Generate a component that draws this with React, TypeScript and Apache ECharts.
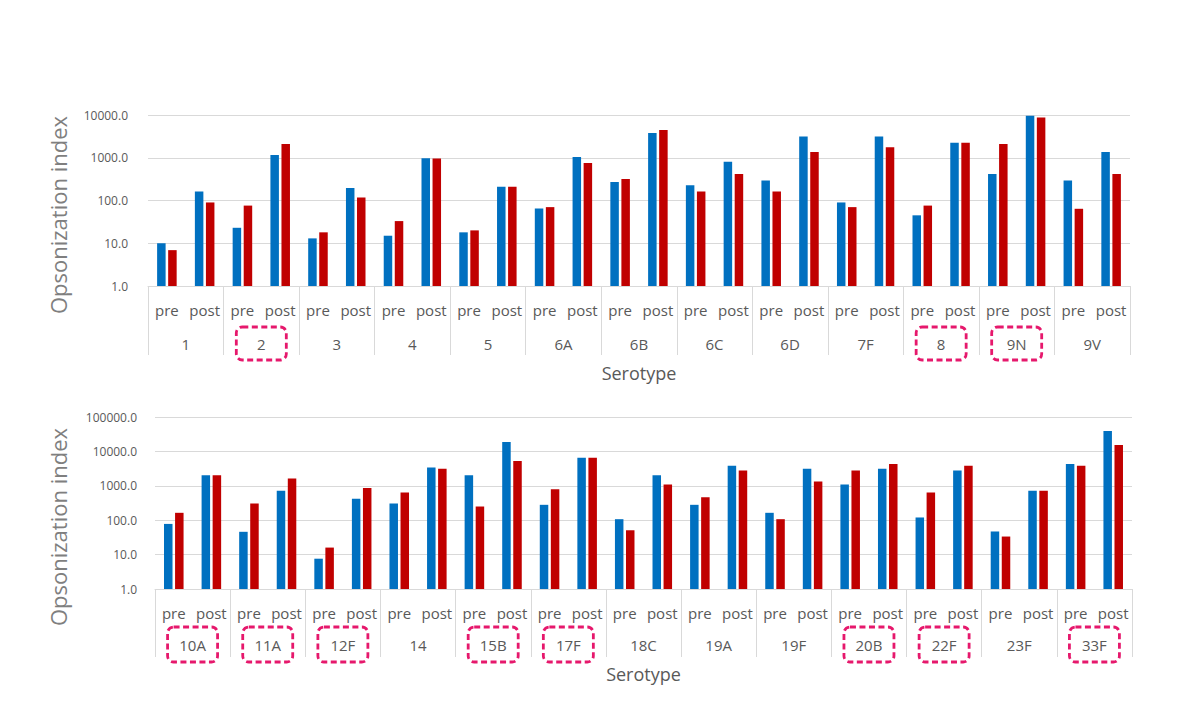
import React, { useEffect, useRef } from "react";
import * as echarts from "echarts";

// ---- Data ----
const serotypesTop = ["1", "2", "3", "4", "5", "6A", "6B", "6C", "6D", "7F", "8", "9N", "9V"];
const highlightTop = ["2", "8", "9N"];
const bluePreTop = [10, 23, 13, 15, 18, 65, 270, 228, 295, 90, 45, 415, 295];
const redPreTop = [6.9, 76, 18, 33, 20, 70, 320, 162, 162, 70, 76, 2090, 64];
const bluePostTop = [162, 1160, 195, 980, 209, 1040, 3800, 805, 3160, 3160, 2240, 9600, 1360];
const redPostTop = [90, 2090, 118, 960, 209, 750, 4450, 415, 1360, 1750, 2240, 8700, 415];

const serotypesBottom = ["10A", "11A", "12F", "14", "15B", "17F", "18C", "19A", "19F", "20B", "22F", "23F", "33F"];
const highlightBottom = ["10A", "11A", "12F", "15B", "17F", "20B", "22F", "33F"];
const bluePreBottom = [78, 46, 7.6, 305, 2040, 280, 107, 280, 164, 1090, 120, 47, 4270];
const redPreBottom = [164, 305, 16, 640, 250, 800, 51, 465, 107, 2800, 640, 33.5, 3820];
const bluePostBottom = [2040, 715, 418, 3400, 18700, 6550, 2040, 3820, 3130, 3130, 2800, 715, 39000];
const redPostBottom = [2040, 1630, 870, 3130, 5230, 6550, 1090, 2800, 1340, 4270, 3820, 715, 15300];

const phases = ["pre", "post"];
const yMaxTop = 10000;
const yMaxBottom = 100000;
const yTitle = "Opsonization index";
const xTitle = "Serotype";

const BLUE = "#0070c0";
const RED = "#c00000";
const GRID = "#d9d9d9";
const TEXT = "#595959";
const FONT = "Open Sans";

function interleave(pre: number[], post: number[]) {
  const out: number[] = [];
  pre.forEach((v, i) => {
    out.push(v);
    out.push(post[i]);
  });
  return out;
}

function subCats(n: number) {
  const out: string[] = [];
  for (let i = 0; i < n; i++) phases.forEach((p) => out.push(p));
  return out;
}

export default function App() {
  const ref = useRef<HTMLDivElement>(null);
  useEffect(() => {
    if (!ref.current) return;
    const chart = echarts.init(ref.current, undefined, { renderer: "svg" });

    const boxStyle = (boxH: number) => ({
      fontFamily: FONT,
      fontSize: 15,
      color: TEXT,
      width: 42,
      height: boxH - 16,
      align: "center",
      verticalAlign: "middle",
      padding: [8, 4, 8, 4],
    });

    const makeSerotypeAxis = (gridIndex: number, cats: string[], hl: string[], margin: number, boxH: number, tickLen: number, nameGap: number) => ({
      type: "category",
      gridIndex,
      position: "bottom",
      data: cats,
      axisLine: { show: false },
      axisTick: { show: true, interval: 0, length: tickLen, lineStyle: { color: GRID, width: 1 } },
      axisLabel: {
        interval: 0,
        margin,
        formatter: (v: string) => (hl.includes(v) ? `{hl|${v}}` : `{nm|${v}}`),
        rich: {
          hl: {
            ...boxStyle(boxH),
            borderColor: "#e6186c",
            borderWidth: 2.8,
            borderType: [6, 3.5],
            borderRadius: 6,
          },
          nm: boxStyle(boxH),
        },
      },
      name: xTitle,
      nameLocation: "middle",
      nameGap,
      nameTextStyle: { fontFamily: FONT, fontSize: 18, color: TEXT },
      splitLine: { show: false },
    });

    const makePhaseAxis = (gridIndex: number, n: number) => ({
      type: "category",
      gridIndex,
      position: "bottom",
      data: subCats(n),
      axisLine: { show: true, lineStyle: { color: GRID, width: 1 } },
      axisTick: { show: false },
      axisLabel: { interval: 0, margin: 16, fontFamily: FONT, fontSize: 15, color: TEXT },
    });

    const makeYAxis = (gridIndex: number, max: number, labelMargin: number) => ({
      type: "log",
      gridIndex,
      logBase: 10,
      min: 1,
      max,
      axisLine: { show: false },
      axisTick: { show: false },
      splitLine: { show: true, lineStyle: { color: GRID, width: 1 } },
      axisLabel: {
        margin: labelMargin,
        fontFamily: FONT,
        fontSize: 12,
        color: TEXT,
        formatter: (v: number) => v.toFixed(1),
      },
    });

    const barStyle = { barWidth: 8.5, barGap: "30%" };

    const yTitleText = (y: number) => ({
      type: "text",
      x: 58,
      y,
      rotation: Math.PI / 2,
      style: {
        text: yTitle,
        fontFamily: FONT,
        fontSize: 22,
        fill: "#7f7f7f",
        textAlign: "center",
        textVerticalAlign: "middle",
      },
    });

    chart.setOption({
      animation: false,
      backgroundColor: "#ffffff",
      grid: [
        { left: 148, right: 63, top: 115, height: 171, containLabel: false },
        { left: 155, right: 61, top: 417, height: 172, containLabel: false },
      ],
      xAxis: [
        makePhaseAxis(0, serotypesTop.length),
        makeSerotypeAxis(0, serotypesTop, highlightTop, 41, 33, 69, 78),
        makePhaseAxis(1, serotypesBottom.length),
        makeSerotypeAxis(1, serotypesBottom, highlightBottom, 38, 35, 68, 76),
      ],
      yAxis: [makeYAxis(0, yMaxTop, 20), makeYAxis(1, yMaxBottom, 18)],
      graphic: [yTitleText(215), yTitleText(527)],
      series: [
        { name: "blue", type: "bar", xAxisIndex: 0, yAxisIndex: 0, data: interleave(bluePreTop, bluePostTop), itemStyle: { color: BLUE }, ...barStyle },
        { name: "red", type: "bar", xAxisIndex: 0, yAxisIndex: 0, data: interleave(redPreTop, redPostTop), itemStyle: { color: RED }, ...barStyle },
        { name: "blue", type: "bar", xAxisIndex: 2, yAxisIndex: 1, data: interleave(bluePreBottom, bluePostBottom), itemStyle: { color: BLUE }, ...barStyle },
        { name: "red", type: "bar", xAxisIndex: 2, yAxisIndex: 1, data: interleave(redPreBottom, redPostBottom), itemStyle: { color: RED }, ...barStyle },
      ],
    });
    return () => chart.dispose();
  }, []);
  return <div ref={ref} style={{ position: "fixed", left: 0, top: 0, width: 1193, height: 717, background: "#fff" }} />;
}
